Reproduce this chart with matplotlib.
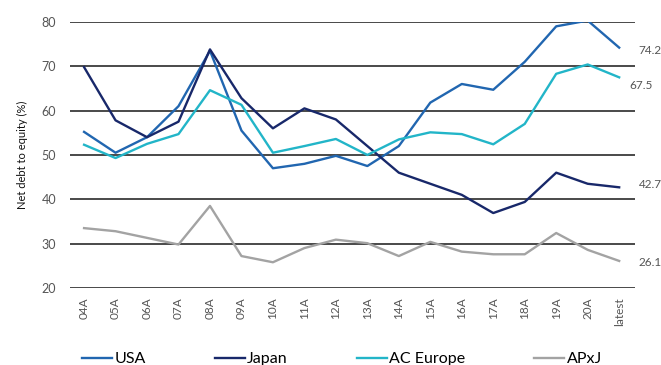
import matplotlib.pyplot as plt
import numpy as np

periods = ["04A", "05A", "06A", "07A", "08A", "09A", "10A", "11A", "12A",
           "13A", "14A", "15A", "16A", "17A", "18A", "19A", "20A", "latest"]

usa = [55.2, 50.5, 54.0, 61.0, 73.5, 55.5, 47.0, 48.0, 49.8,
       47.5, 52.0, 61.8, 66.0, 64.7, 71.0, 79.0, 80.3, 74.2]
japan = [69.8, 57.8, 54.0, 57.5, 73.8, 62.8, 56.0, 60.5, 58.0,
         52.0, 46.0, 43.5, 41.0, 36.9, 39.4, 46.0, 43.5, 42.7]
ac_europe = [52.3, 49.3, 52.5, 54.7, 64.6, 61.3, 50.5, 52.0, 53.6,
             50.0, 53.5, 55.1, 54.7, 52.4, 57.0, 68.3, 70.4, 67.5]
apxj = [33.5, 32.8, 31.3, 29.8, 38.5, 27.2, 25.8, 29.0, 30.9,
        30.1, 27.2, 30.4, 28.2, 27.6, 27.6, 32.4, 28.6, 26.1]

series = [
    ("USA", usa, "#2166b0"),
    ("Japan", japan, "#18286a"),
    ("AC Europe", ac_europe, "#22b5c8"),
    ("APxJ", apxj, "#a3a3a3"),
]

plt.rcParams['font.family'] = ['Lato', 'DejaVu Sans']

fig = plt.figure(figsize=(6.61, 3.65), dpi=100)
ax = fig.add_axes([0.106, 0.211, 0.855, 0.729])

x = np.arange(len(periods))
for name, vals, col in series:
    ax.plot(x, vals, color=col, lw=1.7, label=name, zorder=3)

# value labels at the last point
offsets = {"USA": (14, -2), "Japan": (14, 2), "AC Europe": (7, -6), "APxJ": (14, -1)}
for name, vals, col in series:
    dx, dy = offsets[name]
    ax.annotate(f"{vals[-1]:.1f}", (x[-1], vals[-1]), xytext=(dx, dy),
                textcoords="offset points", color="#555555", fontsize=8.5,
                va="center", ha="left", annotation_clip=False)

ax.set_ylim(20, 80)
ax.set_yticks(range(20, 81, 10))
ax.set_xlim(-0.445, 17.51)
ax.set_xticks(x)
ax.set_xticklabels(periods, rotation=90, color="#555555", fontsize=8.5)
ax.tick_params(axis="y", colors="#555555", labelsize=9, length=0, pad=10)
ax.tick_params(axis="x", length=0, pad=7)
ax.grid(axis="y", color="#2a2a2a", lw=1.2, zorder=1)
for s in ax.spines.values():
    s.set_visible(False)
ax.set_ylabel("Net debt to equity (%)", fontsize=8, color="#111111", labelpad=10)

fig.legend(loc="center left", bbox_to_anchor=(0.114, 1 - 359 / 365), ncol=4,
           frameon=False, fontsize=11.5, handlelength=1.9, handletextpad=0.15,
           columnspacing=4.3, borderaxespad=0)

fig.savefig("out.png", dpi=100)
